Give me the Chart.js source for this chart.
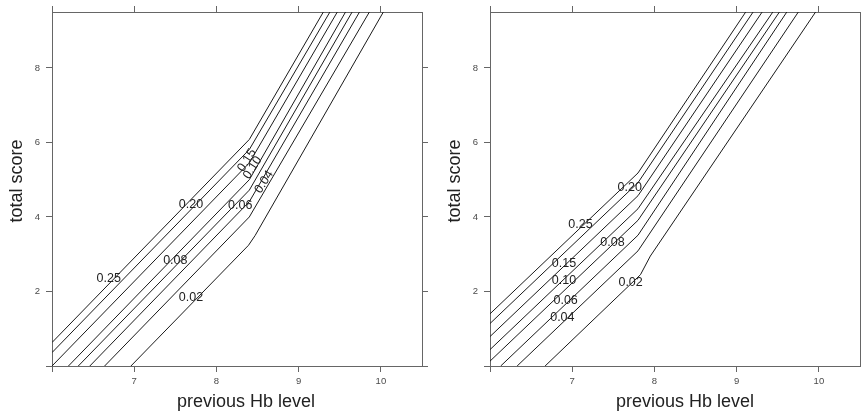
<!DOCTYPE html>
<html>
<head>
<meta charset="utf-8">
<script src="https://cdn.jsdelivr.net/npm/chart.js@4.4.1/dist/chart.umd.min.js"></script>
<style>
  html, body { margin: 0; padding: 0; background: #fff; }
  #wrap { position: relative; width: 861px; height: 412px; }
  canvas { position: absolute; top: 0; }
</style>
</head>
<body>
<div id="wrap">
  <canvas id="leftChart" width="430" height="412" style="left:0"></canvas>
  <canvas id="rightChart" width="431" height="412" style="left:430px"></canvas>
</div>
<script>
const levels = ['0.25', '0.20', '0.15', '0.10', '0.08', '0.06', '0.04', '0.02'];
const xTicks = [6, 7, 8, 9, 10];
const yTicks = [0, 2, 4, 6, 8];

// contour lines, one per level, as [previous Hb, total score]
const leftLines = [
  [[6, 0.63], [8.4, 6.08], [9.30, 9.5]],
  [[6, 0.36], [8.4, 5.81], [9.38, 9.5]],
  [[6, 0.0], [8.4, 5.45], [9.47, 9.5]],
  [[6.20, 0], [8.4, 5.0], [9.57, 9.5]],
  [[6.32, 0], [8.4, 4.72], [9.65, 9.5]],
  [[6.46, 0], [8.4, 4.41], [9.74, 9.5]],
  [[6.64, 0], [8.4, 4.0], [9.86, 9.5]],
  [[6.96, 0], [8.39, 3.24], [8.47, 3.5], [10.03, 9.5]]
];
const leftLabelX = [6.69, 7.69, 8.37, 8.44, 7.50, 8.29, 8.58, 7.69];
const leftLabelY = [2.34, 4.34, 5.52, 5.32, 2.82, 4.31, 4.94, 1.85];
const leftLabelAngle = [0, 0, -57, -57, 0, 0, -57, 0];

const rightLines = [
  [[6, 1.40], [7.8, 5.18], [9.11, 9.5]],
  [[6, 1.14], [7.8, 4.92], [9.20, 9.5]],
  [[6, 0.79], [7.8, 4.57], [9.31, 9.5]],
  [[6, 0.44], [7.8, 4.22], [9.44, 9.5]],
  [[6, 0.13], [7.8, 3.91], [9.52, 9.5]],
  [[6.13, 0], [7.8, 3.51], [9.61, 9.5]],
  [[6.33, 0], [7.8, 3.09], [9.75, 9.5]],
  [[6.67, 0], [7.83, 2.45], [7.95, 2.95], [9.96, 9.5]]
];
const rightLabelX = [7.10, 7.70, 6.90, 6.90, 7.49, 6.92, 6.88, 7.71];
const rightLabelY = [3.80, 4.78, 2.74, 2.30, 3.30, 1.76, 1.31, 2.25];
const rightLabelAngle = [0, 0, 0, 0, 0, 0, 0, 0];

const FONT = '"Liberation Sans", Arial, Helvetica, sans-serif';

function labelPlugin(lx, ly, la, yTitleX, xTitleX) {
  return {
    id: 'contourLabels',
    afterDatasetsDraw(chart) {
      const ctx = chart.ctx;
      const xs = chart.scales.x, ys = chart.scales.y;
      ctx.save();
      ctx.font = '12.5px ' + FONT;
      ctx.fillStyle = '#222';
      ctx.textAlign = 'center';
      ctx.textBaseline = 'middle';
      levels.forEach((t, i) => {
        ctx.save();
        ctx.translate(xs.getPixelForValue(lx[i]), ys.getPixelForValue(ly[i]));
        ctx.rotate(la[i] * Math.PI / 180);
        ctx.fillText(t, 0, 0);
        ctx.restore();
      });
      // axis titles
      ctx.font = '18px ' + FONT;
      ctx.textBaseline = 'alphabetic';
      ctx.fillText('previous Hb level', xTitleX, 407);
      ctx.translate(yTitleX, 181);
      ctx.rotate(-Math.PI / 2);
      ctx.fillText('total score', 0, 0);
      ctx.restore();
    }
  };
}

function makeChart(id, lines, lx, ly, la, leftW, rightW, yTitleX, xTitleX) {
  const datasets = lines.map((pts, i) => ({
    label: levels[i],
    data: pts.map(p => ({ x: p[0], y: p[1] })),
    showLine: true,
    borderColor: '#1a1a1a',
    borderWidth: 1,
    pointRadius: 0,
    fill: false,
    tension: 0
  }));

  const grid = { drawOnChartArea: false, drawTicks: true, tickLength: 6, color: '#666', lineWidth: 1 };
  const border = { display: true, color: '#666', width: 1 };
  const tickFont = { size: 9.5, family: FONT };

  new Chart(document.getElementById(id), {
    type: 'scatter',
    data: { datasets: datasets },
    options: {
      responsive: false,
      animation: false,
      devicePixelRatio: 1,
      layout: { padding: 0 },
      plugins: { legend: { display: false }, tooltip: { enabled: false } },
      scales: {
        x: {
          type: 'linear', position: 'bottom', min: 6, max: 10.5,
          afterBuildTicks: s => { s.ticks = xTicks.map(v => ({ value: v })); },
          afterFit: s => { s.height = 46; },
          ticks: { callback: v => v === 6 ? '' : v, font: tickFont, color: '#4a4a4a', padding: 4, maxRotation: 0, autoSkip: false },
          grid: grid, border: border
        },
        x2: {
          type: 'linear', position: 'top', min: 6, max: 10.5,
          afterBuildTicks: s => { s.ticks = xTicks.map(v => ({ value: v })); },
          afterFit: s => { s.height = 12; },
          ticks: { callback: () => '', autoSkip: false },
          grid: grid, border: border
        },
        y: {
          type: 'linear', position: 'left', min: 0, max: 9.5,
          afterBuildTicks: s => { s.ticks = yTicks.map(v => ({ value: v })); },
          afterFit: s => { s.width = leftW; },
          ticks: { callback: v => v === 0 ? '' : v, font: tickFont, color: '#4a4a4a', padding: 6, autoSkip: false },
          grid: grid, border: border
        },
        y2: {
          type: 'linear', position: 'right', min: 0, max: 9.5,
          afterBuildTicks: s => { s.ticks = yTicks.map(v => ({ value: v })); },
          afterFit: s => { s.width = rightW; },
          ticks: { callback: () => '', autoSkip: false },
          grid: grid, border: border
        }
      }
    },
    plugins: [labelPlugin(lx, ly, la, yTitleX, xTitleX)]
  });
}

makeChart('leftChart', leftLines, leftLabelX, leftLabelY, leftLabelAngle, 52, 8, 21.7, 246);
makeChart('rightChart', rightLines, rightLabelX, rightLabelY, rightLabelAngle, 60, 1, 30, 255);
</script>
</body>
</html>
